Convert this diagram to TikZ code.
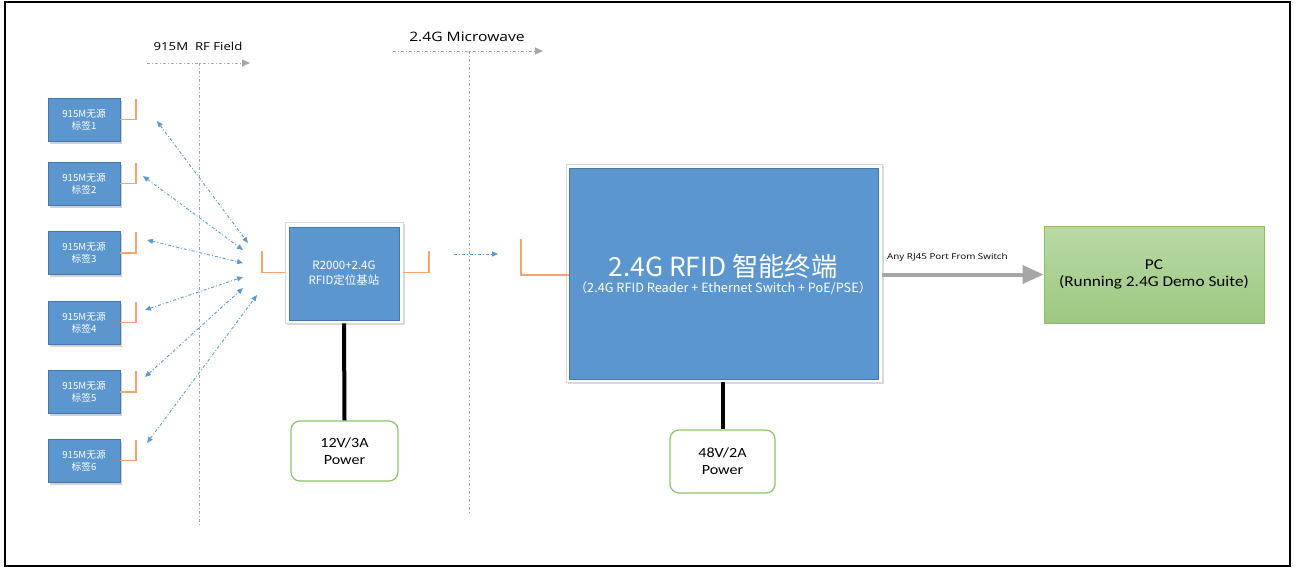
\documentclass[tikz,border=0pt]{standalone}
\usepackage{fontspec}
\setmainfont{Carlito}
\newfontfamily\cjk{Noto Sans CJK SC}
\newfontfamily\lab[FakeStretch=1.2]{Open Sans}
\newfontfamily\plain[FakeStretch=1.15]{Carlito}
\usetikzlibrary{arrows.meta,shadows,calc}
\definecolor{boxblue}{HTML}{5B96CF}
\definecolor{boxedge}{HTML}{4677A8}
\definecolor{antcol}{HTML}{F4A46C}
\definecolor{linkblue}{HTML}{5B9BD5}
\definecolor{guidegray}{HTML}{A6A6A6}
\definecolor{pctop}{HTML}{BAD9A6}
\definecolor{pcbot}{HTML}{9CC880}
\definecolor{pcedge}{HTML}{8CBE6C}
\definecolor{pwredge}{HTML}{8CC46A}
\definecolor{rjgray}{HTML}{A6A6A6}

\begin{document}
\begin{tikzpicture}[x=1pt,y=-1pt,
  tagbox/.style={draw=boxedge, line width=0.8pt, fill=boxblue,
    minimum width=72pt, minimum height=43pt, inner sep=0pt, align=center,
    text=white, font=\cjk\fontsize{9.7}{12}\selectfont,
    drop shadow={shadow xshift=2pt, shadow yshift=-2.5pt, opacity=0.35}},
  framebox/.style={draw=black!15, line width=0.6pt, fill=white, inner sep=0pt,
    drop shadow={shadow xshift=1.5pt, shadow yshift=-1.5pt, opacity=0.3}},
  corebox/.style={draw=boxedge, line width=1pt, fill=boxblue, inner sep=0pt,
    text=white, align=center},
  antline/.style={draw=antcol, line width=1.5pt},
  radio/.style={draw=linkblue, line width=0.9pt,
    dash pattern=on 3pt off 2pt on 1pt off 2pt,
    {Triangle[length=6pt,width=5pt]}-{Triangle[length=6pt,width=5pt]}},
  radioone/.style={draw=linkblue, line width=0.9pt,
    dash pattern=on 3pt off 2pt on 1pt off 2pt,
    -{Triangle[length=6pt,width=5pt]}},
  guide/.style={draw=guidegray, line width=0.8pt,
    dash pattern=on 3pt off 2pt on 1pt off 2pt},
  guidearrow/.style={guide, -{Triangle[length=8pt,width=7pt]}},
  pwrbox/.style={draw=pwredge, line width=1.2pt, fill=white, rounded corners=9pt,
    inner sep=0pt, align=center, font=\plain\fontsize{14}{17}\selectfont},
  feed/.style={draw=black, line width=4pt},
  rj45/.style={draw=rjgray, line width=4pt, -{Triangle[length=21pt,width=18pt]}}
]
\useasboundingbox (0,0) rectangle (1296,568);
\draw[line width=2pt] (5,2) rectangle (1290,566);

% field guides
\coordinate (rfL) at (147,63);
\coordinate (rfR) at (250,63);
\coordinate (rfT) at (199,63);
\coordinate (rfB) at (199,525);
\coordinate (mwL) at (393,51);
\coordinate (mwR) at (543,51);
\coordinate (mwT) at (469,51);
\coordinate (mwB) at (469,515);
\draw[guidearrow] (rfL) -- (rfR);
\draw[guide] (rfT) -- (rfB);
\draw[guidearrow] (mwL) -- (mwR);
\draw[guide] (mwT) -- (mwB);
\node[font=\lab\fontsize{11}{13}\selectfont] (rflabel) at (198,46) {915M\ \ RF Field};
\node[font=\lab\fontsize{13}{15}\selectfont] (mwlabel) at (467,37) {2.4G Microwave};

% passive tags, each with its antenna stub
\foreach \i/\y in {1/119.5, 2/183.5, 3/253, 4/322.5, 5/392, 6/460.5}{
  \node[tagbox] (t\i) at (84,\y) {915M无源\\标签\i};
  \draw[antline] (t\i.east) -- ++(15.5,0) -- ++(0,-21);
}

% base station
\node[framebox, minimum width=118pt, minimum height=101pt] (bframe) at (344,272.5) {};
\node[corebox, minimum width=110pt, minimum height=93pt,
  font=\cjk\fontsize{11.5}{15}\selectfont] (base) at (344,273.5) {R2000+2.4G\\RFID定位基站};
\draw[antline] (bframe.west) -- ++(-22.5,0) -- ++(0,-22);
\draw[antline] (bframe.east) -- ++(25.5,0) -- ++(0,-22);

% tag <-> base links
\coordinate (a1) at (157,121);
\coordinate (a2) at (143,176);
\coordinate (a3) at (147,240);
\coordinate (a4) at (145,310);
\coordinate (a5) at (145,377);
\coordinate (a6) at (147,443);
\coordinate (b1) at (248,243);
\coordinate (b2) at (243,250);
\coordinate (b3) at (243,263);
\coordinate (b4) at (243,277);
\coordinate (b5) at (243,288);
\coordinate (b6) at (257,295);
\foreach \i in {1,...,6}{ \draw[radio] (a\i) -- (b\i); }

% base -> terminal link
\coordinate (lk1) at (454,254);
\coordinate (lk2) at (498,254);
\draw[radioone] (lk1) -- (lk2);

% terminal
\node[framebox, minimum width=316pt, minimum height=218pt] (tframe) at (724,273) {};
\node[corebox, minimum width=309pt, minimum height=211pt] (term) at (723.5,273.5) {};
\node[text=white, font=\cjk\fontsize{26.3}{30}\selectfont, inner sep=0pt] (ttitle) at (723,266) {2.4G RFID 智能终端};
\node[text=white, font=\cjk\fontsize{12.7}{15}\selectfont, inner sep=0pt] (tsub) at (723,288) {（2.4G RFID Reader + Ethernet Switch + PoE/PSE）};
\draw[antline] ($(term.west)+(0,1.5)$) -- ++(-47.5,0) -- ++(0,-36);

% PC
\node[draw=pcedge, line width=1pt, top color=pctop, bottom color=pcbot,
  minimum width=220pt, minimum height=97pt, align=center,
  font=\plain\fontsize{15}{17}\selectfont] (pc) at (1154,274.5) {PC\\(Running 2.4G Demo Suite)};
\draw[rj45] (tframe.east |- pc.west) -- (pc.west);
\node[font=\lab\fontsize{8.2}{10}\selectfont, anchor=south west, inner sep=0pt] (rjlabel) at (887,262) {Any RJ45 Port From Switch};

% power supplies
\node[pwrbox, minimum width=107pt, minimum height=60pt] (p12) at (344.5,451) {12V/3A\\Power};
\node[pwrbox, minimum width=105pt, minimum height=63pt] (p48) at (722.5,461.5) {48V/2A\\Power};
\draw[feed] (bframe.south) -- (p12.north);
\draw[feed] (p48.north |- tframe.south) -- (p48.north);
\end{tikzpicture}
\end{document}
